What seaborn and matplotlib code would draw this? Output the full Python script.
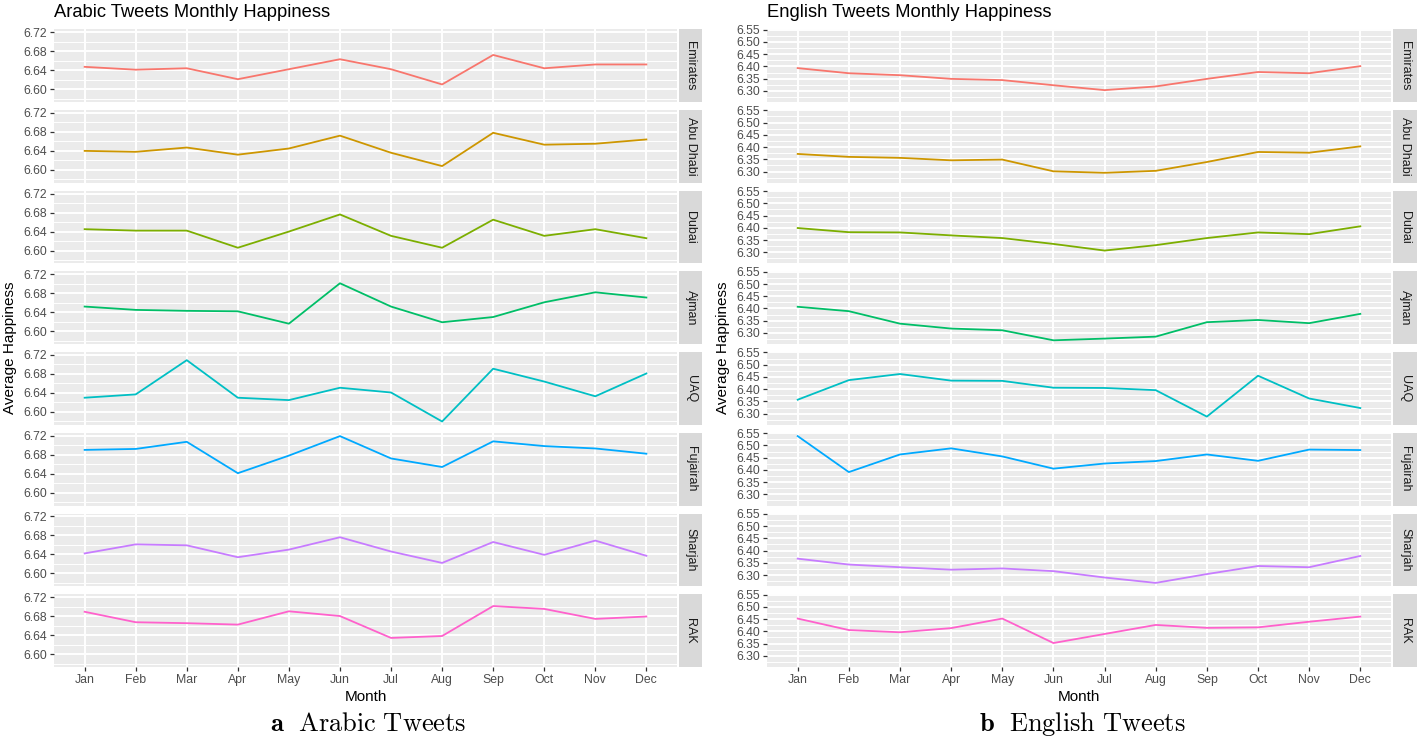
import numpy as np
import pandas as pd
import matplotlib
matplotlib.use("Agg")
import matplotlib.pyplot as plt
import seaborn as sns

# ---------------- data ----------------
months = ["Jan", "Feb", "Mar", "Apr", "May", "Jun", "Jul", "Aug", "Sep", "Oct", "Nov", "Dec"]
regions = ["Emirates", "Abu Dhabi", "Dubai", "Ajman", "UAQ", "Fujairah", "Sharjah", "RAK"]
colors = ["#F8766D", "#CD9600", "#7CAE00", "#00BE67", "#00BFC4", "#00A9FF", "#C77CFF", "#FF61CC"]

ar_emirates = [6.647, 6.641, 6.644, 6.621, 6.642, 6.663, 6.642, 6.610, 6.672, 6.644, 6.652, 6.652]
ar_abudhabi = [6.640, 6.638, 6.647, 6.632, 6.645, 6.672, 6.636, 6.608, 6.678, 6.653, 6.655, 6.664]
ar_dubai    = [6.645, 6.642, 6.642, 6.606, 6.640, 6.676, 6.631, 6.606, 6.665, 6.631, 6.645, 6.626]
ar_ajman    = [6.652, 6.645, 6.643, 6.642, 6.616, 6.701, 6.652, 6.619, 6.630, 6.661, 6.682, 6.671]
ar_uaq      = [6.630, 6.637, 6.709, 6.630, 6.625, 6.651, 6.641, 6.580, 6.691, 6.664, 6.633, 6.681]
ar_fujairah = [6.690, 6.692, 6.707, 6.641, 6.678, 6.719, 6.672, 6.654, 6.708, 6.698, 6.693, 6.682]
ar_sharjah  = [6.642, 6.661, 6.659, 6.634, 6.650, 6.676, 6.646, 6.622, 6.666, 6.639, 6.669, 6.637]
ar_rak      = [6.689, 6.667, 6.665, 6.662, 6.690, 6.680, 6.634, 6.638, 6.701, 6.695, 6.674, 6.679]

en_emirates = [6.393, 6.372, 6.364, 6.349, 6.344, 6.323, 6.303, 6.318, 6.349, 6.377, 6.372, 6.401]
en_abudhabi = [6.372, 6.360, 6.356, 6.346, 6.349, 6.301, 6.295, 6.303, 6.339, 6.380, 6.377, 6.403]
en_dubai    = [6.399, 6.382, 6.381, 6.369, 6.358, 6.334, 6.307, 6.329, 6.358, 6.381, 6.374, 6.406]
en_ajman    = [6.407, 6.389, 6.338, 6.318, 6.311, 6.270, 6.277, 6.285, 6.344, 6.353, 6.340, 6.378]
en_uaq      = [6.357, 6.437, 6.462, 6.435, 6.434, 6.406, 6.405, 6.396, 6.288, 6.455, 6.362, 6.323]
en_fujairah = [6.538, 6.391, 6.463, 6.488, 6.455, 6.405, 6.426, 6.436, 6.463, 6.437, 6.483, 6.481]
en_sharjah  = [6.367, 6.343, 6.332, 6.322, 6.327, 6.316, 6.290, 6.268, 6.304, 6.337, 6.332, 6.378]
en_rak      = [6.452, 6.405, 6.396, 6.413, 6.452, 6.352, 6.389, 6.426, 6.414, 6.416, 6.439, 6.460]

ar_major = [6.60, 6.64, 6.68, 6.72]
ar_major_labels = ["6.60", "6.64", "6.68", "6.72"]
ar_minor = [6.58, 6.62, 6.66, 6.70]
en_major = [6.30, 6.35, 6.40, 6.45, 6.50, 6.55]
en_major_labels = ["6.30", "6.35", "6.40", "6.45", "6.50", "6.55"]
en_minor = [6.275, 6.325, 6.375, 6.425, 6.475, 6.525]

ar_series = [ar_emirates, ar_abudhabi, ar_dubai, ar_ajman, ar_uaq, ar_fujairah, ar_sharjah, ar_rak]
en_series = [en_emirates, en_abudhabi, en_dubai, en_ajman, en_uaq, en_fujairah, en_sharjah, en_rak]


def long_df(series):
    rows = []
    for reg, vals in zip(regions, series):
        for m, v in zip(months, vals):
            rows.append({"Region": reg, "Month": m, "Happiness": v})
    return pd.DataFrame(rows)


df_ar = long_df(ar_series)
df_en = long_df(en_series)

# ---------------- style ----------------
plt.rcParams["font.family"] = ["Liberation Sans", "DejaVu Sans"]
plt.rcParams["mathtext.fontset"] = "cm"

W, H = 1419, 741
fig = plt.figure(figsize=(W / 100, H / 100), dpi=100)
fig.patch.set_facecolor("white")


def px_axes(x0, y0, w, h):
    return fig.add_axes([x0 / W, 1 - (y0 + h) / H, w / W, h / H])


TOP0, STEP, PH = 29.3, 80.7, 72.7


def draw_block(df, px0, px1, sx0, sx1, major, major_labels, minor, title, caption, ylab_x, cap_x):
    lo, hi = df["Happiness"].min(), df["Happiness"].max()
    pad = 0.05 * (hi - lo)
    for k, reg in enumerate(regions):
        top = TOP0 + k * STEP
        ax = px_axes(px0, top, px1 - px0, PH)
        sub = df[df["Region"] == reg]
        sns.lineplot(data=sub, x="Month", y="Happiness", color=colors[k],
                     linewidth=1.3, ax=ax, sort=False)
        ax.set_facecolor("#EBEBEB")
        for s in ax.spines.values():
            s.set_visible(False)
        ax.set_xlim(-0.6, len(months) - 0.4)
        ax.set_ylim(lo - pad, hi + pad)
        ax.set_xticks(range(len(months)))
        ax.set_xticklabels(months)
        ax.set_yticks(major)
        ax.set_yticklabels(major_labels)
        ax.set_yticks(minor, minor=True)
        ax.set_axisbelow(True)
        ax.grid(which="major", color="white", linewidth=1.4)
        ax.grid(which="minor", axis="y", color="white", linewidth=0.7)
        ax.tick_params(axis="y", which="major", length=3, width=0.9, color="#333333",
                       labelsize=8.8, labelcolor="#4D4D4D", pad=2)
        ax.tick_params(axis="y", which="minor", length=0)
        if k == len(regions) - 1:
            ax.tick_params(axis="x", length=3, width=0.9, color="#333333",
                           labelsize=8.8, labelcolor="#4D4D4D", pad=2)
        else:
            ax.tick_params(axis="x", length=0, labelbottom=False)
        ax.set_xlabel("")
        ax.set_ylabel("")
        if ax.get_legend():
            ax.get_legend().remove()
        # strip
        sax = px_axes(sx0, top, sx1 - sx0, PH)
        sax.set_facecolor("#D9D9D9")
        sax.set_xticks([])
        sax.set_yticks([])
        for s in sax.spines.values():
            s.set_visible(False)
        sax.text(0.5, 0.5, reg, rotation=270, ha="center", va="center",
                 fontsize=9, color="#1A1A1A", transform=sax.transAxes)
    fig.text(px0 / W, 1 - 12.7 / H, title, ha="left", va="center", fontsize=13.2, color="black")
    fig.text(ylab_x / W, 1 - 348 / H, "Average Happiness", rotation=90, ha="center",
             va="center", fontsize=11, color="black")
    fig.text((px0 + px1) / 2 / W, 1 - 697 / H, "Month", ha="center", va="center",
             fontsize=11, color="black")
    fig.text(cap_x / W, 1 - 724 / H, caption, ha="center", va="center", fontsize=19)


draw_block(df_ar, 54, 677, 679, 702, ar_major, ar_major_labels, ar_minor,
           "Arabic Tweets Monthly Happiness", r"$\mathbf{a}\ \ \mathrm{Arabic\ Tweets}$", 10, 368)
draw_block(df_en, 767, 1391, 1393, 1417, en_major, en_major_labels, en_minor,
           "English Tweets Monthly Happiness", r"$\mathbf{b}\ \ \mathrm{English\ Tweets}$", 723, 1082)

fig.savefig("out.png", dpi=100, facecolor="white")
